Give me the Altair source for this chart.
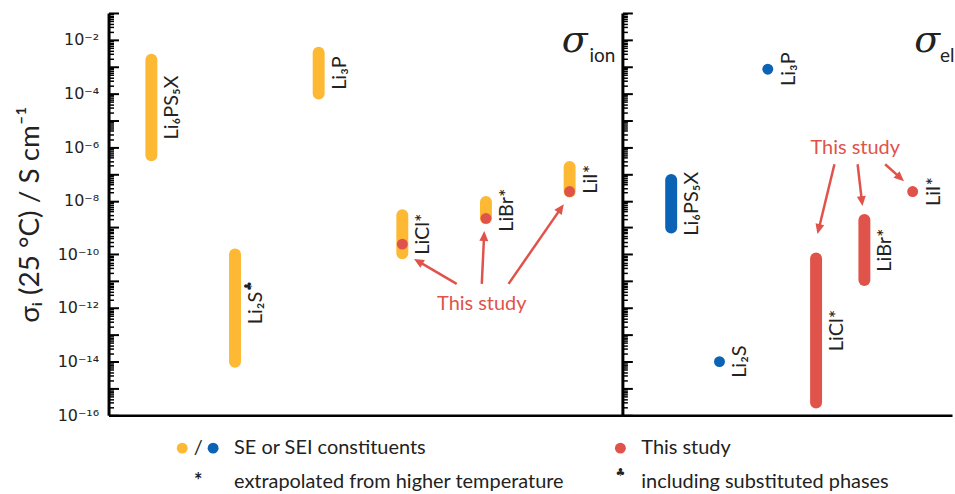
import math

import altair as alt
import pandas as pd

# ---------------------------------------------------------------- data
materials = ["Li6PS5X", "Li2S", "Li3P", "LiCl", "LiBr", "LiI"]
ion_labels = ["Li₆PS₅X", "Li₂S", "Li₃P", "LiCl*", "LiBr*", "LiI*"]
ion_marks = ["", "♣", "", "", "", ""]
el_labels = ["Li₆PS₅X", "Li₂S", "Li₃P", "LiCl*", "LiBr*", "LiI*"]

# ionic conductivity at 25 °C, literature ranges (S/cm)
ion_lit_low = [5e-7, 1e-14, 1e-4, 1.1e-10, 2.2e-9, 2.2e-8]
ion_lit_high = [1.8e-3, 1e-10, 3.3e-3, 2.9e-9, 9e-9, 1.8e-7]
# ionic conductivity measured in this study
ion_this = [None, None, None, 2.4e-10, 2.2e-9, 2.2e-8]

# electronic conductivity at 25 °C (low == high for single values)
el_low = [1e-9, 1e-14, 8e-4, 3e-16, 1.1e-11, 2.2e-8]
el_high = [6e-8, 1e-14, 8e-4, 7e-11, 1.9e-9, 2.2e-8]
el_source = ["lit", "lit", "lit", "this", "this", "this"]

tick_exponents = [-2, -4, -6, -8, -10, -12, -14, -16]
tick_labels = ["10⁻²", "10⁻⁴", "10⁻⁶", "10⁻⁸", "10⁻¹⁰", "10⁻¹²", "10⁻¹⁴", "10⁻¹⁶"]

legend_labels = ["SE or SEI constituents", "This study",
                 "extrapolated from higher temperature", "including substituted phases"]

# ---------------------------------------------------------------- style / layout
ORANGE = "#FDB933"
BLUE = "#0B63B5"
RED = "#E0534A"
INK = "#222222"
FONT = "Lato, DejaVu Sans"

W_ION, W_EL, H = 516, 331, 404
ION_STEP, ION_FIRST = 84.0, 43.0
EL_STEP, EL_FIRST = 48.5, 49.0
Y_MIN, Y_MAX = 1e-16, 1e-1
DECADE = H / (math.log10(Y_MAX) - math.log10(Y_MIN))

Y_SCALE = alt.Scale(type="log", domain=[Y_MIN, Y_MAX], nice=False)
ION_X = alt.Scale(domain=[-ION_FIRST / ION_STEP, (W_ION - ION_FIRST) / ION_STEP], nice=False, zero=False)
EL_X = alt.Scale(domain=[-EL_FIRST / EL_STEP, (W_EL - EL_FIRST) / EL_STEP], nice=False, zero=False)

major_values = [10.0 ** k for k in range(-16, 0)]
minor_values = [m * 10.0 ** k for k in range(-16, -1) for m in range(2, 10)]
label_expr = " : ".join(
    f"round(log(datum.value) / LN10) == {e} ? '{t}'" for e, t in zip(tick_exponents, tick_labels)
) + " : ''"

X_AXIS = alt.Axis(domain=True, ticks=False, labels=False, grid=False, title=None,
                  domainColor="black", domainWidth=2.5)

AXIS_ION_MAJOR = alt.Axis(
    orient="left", values=major_values, labelExpr=label_expr, grid=False,
    tickSize=alt.ExprRef(expr="-10"), tickWidth=2, tickColor="black",
    domainWidth=3, domainColor="black",
    labelPadding=20, labelFont="DejaVu Sans", labelFontSize=16, labelColor=INK,
    labelFlush=False, labelOverlap=False,
    title="σᵢ (25 °C) / S cm⁻¹", titleFont=FONT, titleFontSize=28,
    titleFontWeight="normal", titleColor=INK, titlePadding=13,
)
AXIS_ION_MINOR = alt.Axis(
    orient="right", offset=-W_ION, values=minor_values, labels=False, domain=False,
    grid=False, title=None, tickSize=5, tickWidth=1.5, tickColor="black",
)
AXIS_EL_MAJOR = alt.Axis(
    orient="left", values=major_values, labels=False, grid=False, title=None,
    tickSize=alt.ExprRef(expr="-10"), tickWidth=2, tickColor="black",
    domainWidth=3, domainColor="black",
)
AXIS_EL_MINOR = alt.Axis(
    orient="right", offset=-W_EL, values=minor_values, labels=False, domain=False,
    grid=False, title=None, tickSize=5, tickWidth=1.5, tickColor="black",
)

ARROW_HEAD = "M0,0 L0.9,2 L-0.9,2 Z"


def yq(field, axis=None):
    return alt.Y(field, type="quantitative", scale=Y_SCALE, axis=axis)


def xq(field, scale):
    return alt.X(field, type="quantitative", scale=scale, axis=X_AXIS)


def arrows(tails, heads, step):
    """Shaft and head geometry for annotation arrows given in (position, log10 sigma)."""
    rows = []
    for (xt, lt), (xh, lh) in zip(tails, heads):
        sx, sy = (xh - xt) * step, -(lh - lt) * DECADE
        n = math.hypot(sx, sy)
        ux, uy = sx / n, sy / n
        rows.append({
            "x": xt, "y": 10 ** lt,
            "x2": xh - ux * 6 / step, "y2": 10 ** (lh + uy * 6 / DECADE),
            "hx": xh, "hy": 10 ** lh,
            "angle": math.degrees(math.atan2(ux, -uy)) % 360,
        })
    return pd.DataFrame(rows)


def arrow_layers(df, scale):
    shaft = alt.Chart(df).mark_rule(color=RED, strokeWidth=2.5).encode(
        x=xq("x", scale), y=yq("y"), x2="x2", y2="y2")
    head = alt.Chart(df).mark_point(shape=ARROW_HEAD, filled=True, size=100, opacity=1,
                                    color=RED, strokeWidth=0).encode(
        x=xq("hx", scale), y=yq("hy"), angle=alt.Angle("angle:Q", scale=None))
    return [shaft, head]


def note(pos, logv, scale):
    df = pd.DataFrame({"x": [pos], "y": [10 ** logv], "t": ["This study"]})
    return alt.Chart(df).mark_text(font=FONT, fontSize=20, color=RED).encode(
        x=xq("x", scale), y=yq("y"), text="t")


def panel_symbol(sub, x_sigma, x_sub):
    sig = alt.Chart(pd.DataFrame({"t": ["σ"]})).mark_text(
        font="DejaVu Serif", fontStyle="italic", fontSize=38, align="left",
        baseline="alphabetic", color=INK).encode(x=alt.value(x_sigma), y=alt.value(39), text="t")
    low = alt.Chart(pd.DataFrame({"t": [sub]})).mark_text(
        font=FONT, fontSize=19, align="left", baseline="alphabetic", color=INK).encode(
        x=alt.value(x_sub), y=alt.value(49), text="t")
    return [sig, low]


# ---------------------------------------------------------------- ionic panel
ion_df = pd.DataFrame({"pos": range(len(materials)), "material": materials, "label": ion_labels,
                       "mark": ion_marks, "low": ion_lit_low, "high": ion_lit_high, "this": ion_this})
ion_df["mid"] = (ion_df["low"] * ion_df["high"]) ** 0.5

ion_ranges = alt.Chart(ion_df).mark_rule(strokeWidth=12, strokeCap="round", color=ORANGE).encode(
    x=xq("pos", ION_X), y=yq("low", AXIS_ION_MAJOR), y2="high")
ion_dots = alt.Chart(ion_df.dropna(subset=["this"])).mark_circle(size=120, opacity=1, color=RED).encode(
    x=xq("pos", ION_X), y=yq("this"))
ion_text = alt.Chart(ion_df).mark_text(angle=270, dy=21, font=FONT, fontSize=20, color=INK).encode(
    x=xq("pos", ION_X), y=yq("mid", AXIS_ION_MINOR), text="label")
# small club sign raised after the Li2S label
ion_mark = alt.Chart(ion_df[ion_df["mark"] != ""]).mark_text(
    angle=270, dx=22, dy=14, font="DejaVu Sans", fontSize=11, color=INK).encode(
    x=xq("pos", ION_X), y=yq("mid"), text="mark")

ion_arrows = arrows([(3.65, -11.10), (3.95, -11.10), (4.27, -11.10)],
                    [(3.14, -10.17), (3.98, -9.13), (4.93, -8.13)], ION_STEP)

# legend below the panels
leg_dot = pd.DataFrame({"x": [74, 105, 514], "c": [ORANGE, BLUE, RED]})
legend = [
    alt.Chart(leg_dot).mark_circle(size=120, opacity=1).encode(
        x=alt.value(0), xOffset=alt.XOffset("x:Q", scale=None), y=alt.value(437),
        color=alt.Color("c:N", scale=None)),
]
leg_text = pd.DataFrame({
    "t": ["/", legend_labels[0], legend_labels[1], "*", legend_labels[2], legend_labels[3]],
    "x": [90, 126, 535, 90, 126, 535],
    "y": [437, 437, 437, 471, 471, 471],
    "a": ["center", "left", "left", "center", "left", "left"],
})
for _, r in leg_text.iterrows():
    legend.append(alt.Chart(pd.DataFrame({"t": [r.t]})).mark_text(
        font=FONT, fontSize=20, align=r.a, baseline="middle", color=INK,
        fontWeight="bold" if r.t == "*" else "normal").encode(
        x=alt.value(r.x), y=alt.value(r.y), text="t"))
legend.append(alt.Chart(pd.DataFrame({"t": ["♣"]})).mark_text(
    font="DejaVu Sans", fontSize=11, align="center", baseline="middle", color=INK).encode(
    x=alt.value(514), y=alt.value(462), text="t"))

ion_chart = alt.layer(
    ion_ranges, ion_dots, ion_text, ion_mark,
    *arrow_layers(ion_arrows, ION_X),
    note(3.95, -11.84, ION_X),
    *panel_symbol("ion", 455, 483),
    *legend,
).resolve_axis(y="independent").properties(width=W_ION, height=H)

# ---------------------------------------------------------------- electronic panel
el_df = pd.DataFrame({"pos": range(len(materials)), "material": materials, "label": el_labels,
                      "low": el_low, "high": el_high, "source": el_source})
el_df["mid"] = (el_df["low"] * el_df["high"]) ** 0.5
el_color = alt.Color("source:N", scale=alt.Scale(domain=["lit", "this"], range=[BLUE, RED]), legend=None)

el_ranges = alt.Chart(el_df[el_df["low"] < el_df["high"]]).mark_rule(
    strokeWidth=12, strokeCap="round").encode(
    x=xq("pos", EL_X), y=yq("low", AXIS_EL_MAJOR), y2="high", color=el_color)
el_points = alt.Chart(el_df[el_df["low"] == el_df["high"]]).mark_circle(size=120, opacity=1).encode(
    x=xq("pos", EL_X), y=yq("low"), color=el_color)
el_text = alt.Chart(el_df).mark_text(angle=270, dy=21, font=FONT, fontSize=20, color=INK).encode(
    x=xq("pos", EL_X), y=yq("mid", AXIS_EL_MINOR), text="label")

el_arrows = arrows([(3.38, -6.64), (3.86, -6.64), (4.43, -6.64)],
                   [(3.03, -9.24), (3.96, -8.20), (4.82, -7.27)], EL_STEP)

el_chart = alt.layer(
    el_ranges, el_points, el_text,
    *arrow_layers(el_arrows, EL_X),
    note(3.81, -6.05, EL_X),
    *panel_symbol("el", 293, 319),
).resolve_axis(y="independent").properties(width=W_EL, height=H)

chart = alt.hconcat(ion_chart, el_chart, spacing=0, bounds="flush").properties(
    padding={"left": 16, "top": 4, "right": 0, "bottom": 0},
    background="white",
).configure_view(stroke=None)

chart.save("out.html", embed_options={"renderer": "svg", "actions": False})
